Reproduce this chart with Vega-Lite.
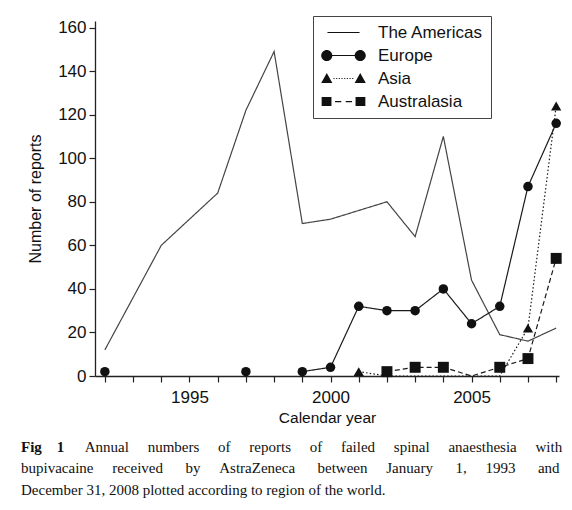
{
  "$schema": "https://vega.github.io/schema/vega-lite/v6.json",
  "width": 464,
  "height": 355,
  "autosize": {"type": "none"},
  "padding": {"left": 95, "top": 21, "right": 13, "bottom": 134},
  "background": "white",
  "title": {
    "text": "Fig\u00a0\u00a0\u00a0\u00a01",
    "subtitle": [
      "\u200b\u00a0\u00a0\u00a0\u00a0\u00a0\u00a0\u00a0\u00a0\u00a0\u00a0\u00a0\u00a0\u00a0\u00a0\u00a0\u00a0\u00a0Annual\u00a0\u00a0\u00a0\u00a0\u00a0numbers\u00a0\u00a0\u00a0\u00a0\u00a0of\u00a0\u00a0\u00a0\u00a0\u00a0reports\u00a0\u00a0\u00a0\u00a0\u00a0of\u00a0\u00a0\u00a0\u00a0\u00a0failed\u00a0\u00a0\u00a0\u00a0\u00a0spinal\u00a0\u00a0\u00a0\u00a0\u00a0anaesthesia\u00a0\u00a0\u00a0\u00a0\u00a0with",
      "bupivacaine\u00a0\u00a0\u00a0\u00a0\u00a0received\u00a0\u00a0\u00a0\u00a0\u00a0\u00a0by\u00a0\u00a0\u00a0\u00a0\u00a0AstraZeneca\u00a0\u00a0\u00a0\u00a0\u00a0\u00a0between\u00a0\u00a0\u00a0\u00a0\u00a0January\u00a0\u00a0\u00a0\u00a0\u00a0\u00a01,\u00a0\u00a0\u00a0\u00a0\u00a01993\u00a0\u00a0\u00a0\u00a0\u00a0\u00a0and",
      "December 31, 2008 plotted according to region of the world."
    ],
    "orient": "bottom",
    "anchor": "start",
    "frame": "group",
    "dx": -74,
    "offset": 14,
    "font": "Liberation Serif",
    "fontSize": 15,
    "fontWeight": "bold",
    "color": "#111",
    "subtitleFont": "Liberation Serif",
    "subtitleFontSize": 15,
    "subtitleColor": "#111",
    "subtitlePadding": -15,
    "subtitleLineHeight": 21.5
  },
  "data": {
    "values": [
      {"year": 1992, "region": "The Americas", "value": 12},
      {"year": 1994, "region": "The Americas", "value": 60},
      {"year": 1996, "region": "The Americas", "value": 84},
      {"year": 1997, "region": "The Americas", "value": 122},
      {"year": 1998, "region": "The Americas", "value": 149},
      {"year": 1999, "region": "The Americas", "value": 70},
      {"year": 2000, "region": "The Americas", "value": 72},
      {"year": 2002, "region": "The Americas", "value": 80},
      {"year": 2003, "region": "The Americas", "value": 64},
      {"year": 2004, "region": "The Americas", "value": 110},
      {"year": 2005, "region": "The Americas", "value": 44},
      {"year": 2006, "region": "The Americas", "value": 19},
      {"year": 2007, "region": "The Americas", "value": 16},
      {"year": 2008, "region": "The Americas", "value": 22},
      {"year": 1992, "region": "Europe", "value": 2},
      {"year": 1997, "region": "Europe", "value": 2},
      {"year": 1999, "region": "Europe", "value": 2},
      {"year": 2000, "region": "Europe", "value": 4},
      {"year": 2001, "region": "Europe", "value": 32},
      {"year": 2002, "region": "Europe", "value": 30},
      {"year": 2003, "region": "Europe", "value": 30},
      {"year": 2004, "region": "Europe", "value": 40},
      {"year": 2005, "region": "Europe", "value": 24},
      {"year": 2006, "region": "Europe", "value": 32},
      {"year": 2007, "region": "Europe", "value": 87},
      {"year": 2008, "region": "Europe", "value": 116},
      {"year": 2001, "region": "Asia", "value": 2},
      {"year": 2002, "region": "Asia", "value": 0},
      {"year": 2003, "region": "Asia", "value": 0},
      {"year": 2004, "region": "Asia", "value": 0},
      {"year": 2005, "region": "Asia", "value": 0},
      {"year": 2006, "region": "Asia", "value": 0},
      {"year": 2007, "region": "Asia", "value": 22},
      {"year": 2008, "region": "Asia", "value": 124},
      {"year": 2002, "region": "Australasia", "value": 2},
      {"year": 2003, "region": "Australasia", "value": 4},
      {"year": 2004, "region": "Australasia", "value": 4},
      {"year": 2005, "region": "Australasia", "value": 0},
      {"year": 2006, "region": "Australasia", "value": 4},
      {"year": 2007, "region": "Australasia", "value": 8},
      {"year": 2008, "region": "Australasia", "value": 54}
    ]
  },
  "encoding": {
    "x": {
      "field": "year",
      "type": "quantitative",
      "scale": {"domain": [1991.65, 2008.1], "nice": false, "zero": false},
      "axis": {
        "title": "Calendar year",
        "values": [1992, 1993, 1994, 1995, 1996, 1997, 1998, 1999, 2000, 2001, 2002, 2003, 2004, 2005, 2006, 2007, 2008],
        "format": "d",
        "labelExpr": "datum.value % 5 === 0 ? datum.label : ''",
        "labelFontSize": 17,
        "labelPadding": 7,
        "tickSize": 6,
        "titleFontSize": 15.5,
        "titleFontWeight": "normal",
        "titlePadding": 5,
        "labelFlush": false,
        "labelOverlap": false
      }
    },
    "y": {
      "field": "value",
      "type": "quantitative",
      "scale": {"domain": [0, 163], "nice": false},
      "axis": {
        "title": "Number of reports",
        "values": [0, 20, 40, 60, 80, 100, 120, 140, 160],
        "labelFontSize": 17,
        "labelPadding": 3,
        "tickSize": 6,
        "titleFontSize": 16,
        "titleFontWeight": "normal",
        "titlePadding": 14
      }
    }
  },
  "layer": [
    {
      "transform": [{"filter": "!(datum.region === 'Europe' && datum.year < 1999)"}],
      "mark": {"type": "line", "strokeWidth": 1.2},
      "encoding": {
        "color": {
          "field": "region",
          "type": "nominal",
          "scale": {"domain": ["The Americas", "Europe", "Asia", "Australasia"], "range": ["#444444", "#1a1a1a", "#1a1a1a", "#1a1a1a"]},
          "legend": null
        },
        "strokeDash": {
          "field": "region",
          "type": "nominal",
          "scale": {"domain": ["The Americas", "Europe", "Asia", "Australasia"], "range": [[1, 0], [1, 0], [1.5, 2.2], [5, 3]]},
          "legend": null
        }
      }
    },
    {
      "transform": [{"filter": "datum.region !== 'The Americas' && datum.value > 0"}],
      "mark": {"type": "point", "filled": true, "color": "#111", "opacity": 1},
      "encoding": {
        "shape": {
          "field": "region",
          "type": "nominal",
          "scale": {"domain": ["Europe", "Asia", "Australasia"], "range": ["circle", "triangle-up", "square"]},
          "legend": null
        },
        "size": {
          "field": "region",
          "type": "nominal",
          "scale": {"domain": ["Europe", "Asia", "Australasia"], "range": [90, 120, 120]},
          "legend": null
        }
      }
    },
    {
      "transform": [{"filter": "datum.value < 0"}],
      "mark": {"type": "point", "filled": true, "color": "#111"},
      "encoding": {
        "shape": {
          "field": "region",
          "type": "nominal",
          "scale": {
            "domain": ["The Americas", "Europe", "Asia", "Australasia"],
            "range": [
              "M-0.72,-0.026L0.72,-0.026L0.72,0.026L-0.72,0.026Z",
              "M-1,0A0.25,0.25,0,1,1,-0.5,0A0.25,0.25,0,1,1,-1,0ZM0.5,0A0.25,0.25,0,1,1,1,0A0.25,0.25,0,1,1,0.5,0ZM-0.75,-0.026L0.75,-0.026L0.75,0.026L-0.75,0.026Z",
              "M-1,0.2L-0.5,0.2L-0.75,-0.25ZM0.5,0.2L1,0.2L0.75,-0.25ZM-0.45,-0.024L-0.4,-0.024L-0.4,0.024L-0.45,0.024ZM-0.33,-0.024L-0.28,-0.024L-0.28,0.024L-0.33,0.024ZM-0.21,-0.024L-0.16,-0.024L-0.16,0.024L-0.21,0.024ZM-0.09,-0.024L-0.04,-0.024L-0.04,0.024L-0.09,0.024ZM0.03,-0.024L0.08,-0.024L0.08,0.024L0.03,0.024ZM0.15,-0.024L0.2,-0.024L0.2,0.024L0.15,0.024ZM0.27,-0.024L0.32,-0.024L0.32,0.024L0.27,0.024ZM0.39,-0.024L0.44,-0.024L0.44,0.024L0.39,0.024Z",
              "M-0.98,-0.2L-0.54,-0.2L-0.54,0.2L-0.98,0.2ZM0.54,-0.2L0.98,-0.2L0.98,0.2L0.54,0.2ZM-0.38,-0.028L-0.1,-0.028L-0.1,0.028L-0.38,0.028ZM0.1,-0.028L0.38,-0.028L0.38,0.028L0.1,0.028Z"
            ]
          },
          "legend": {
            "title": null,
            "orient": "none",
            "legendX": 218,
            "legendY": -5,
            "strokeColor": "#444",
            "fillColor": "white",
            "padding": 8,
            "clipHeight": 17,
            "symbolSize": 1990,
            "symbolStrokeWidth": 0,
            "symbolFillColor": "#111",
            "symbolOpacity": 1,
            "labelFontSize": 17,
            "labelColor": "#111",
            "labelOffset": 12,
            "rowPadding": 5,
            "encode": {
              "symbols": {
                "update": {
                  "fill": {"value": "#111"},
                  "opacity": {"value": 1}
                }
              }
            }
          }
        }
      }
    }
  ],
  "resolve": {"scale": {"shape": "independent", "size": "independent"}, "legend": {"shape": "independent"}},
  "config": {
    "view": {"stroke": null},
    "font": "Liberation Sans",
    "axis": {
      "grid": false,
      "domainColor": "#222",
      "domainWidth": 1.3,
      "tickColor": "#222",
      "tickWidth": 1.2,
      "labelColor": "#111",
      "titleColor": "#111",
      "labelFont": "Liberation Sans",
      "titleFont": "Liberation Sans"
    },
    "legend": {"labelFont": "Liberation Sans"}
  }
}
